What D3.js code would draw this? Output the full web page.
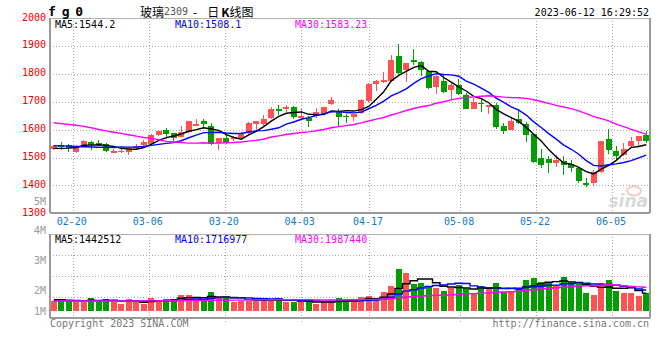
<!DOCTYPE html>
<html><head><meta charset="utf-8">
<script src="https://cdn.jsdelivr.net/npm/d3@7"></script>
<style>body{margin:0;background:#fff}svg{display:block}</style>
</head><body>
<script>
// ---------- data ----------
const dates = ["02-15","02-16","02-17","02-20","02-21","02-22","02-23","02-24","02-27","02-28",
"03-01","03-02","03-03","03-06","03-07","03-08","03-09","03-10","03-13","03-14",
"03-15","03-16","03-17","03-20","03-21","03-22","03-23","03-24","03-27","03-28",
"03-29","03-30","03-31","04-03","04-04","04-06","04-07","04-10","04-11","04-12",
"04-13","04-14","04-17","04-18","04-19","04-20","04-21","04-24","04-25","04-26",
"04-27","04-28","05-04","05-05","05-08","05-09","05-10","05-11","05-12","05-15",
"05-16","05-17","05-18","05-19","05-22","05-23","05-24","05-25","05-26","05-29",
"05-30","05-31","06-01","06-02","06-05","06-06","06-07","06-08","06-09","06-12"];
const open = [1530,1545,1546,1521,1539,1557,1554,1549,1522,1523,
1520,1535,1546,1548,1581,1600,1588,1575,1593,1614,
1631,1615,1554,1569,1566,1569,1589,1619,1619,1643,
1676,1673,1682,1643,1643,1649,1658,1692,1669,1651,
1646,1661,1702,1764,1771,1774,1863,1813,1851,1842,
1810,1752,1776,1742,1760,1726,1676,1696,1681,1690,
1613,1599,1640,1621,1583,1500,1494,1482,1488,1476,
1462,1408,1408,1450,1565,1524,1510,1542,1560,1580];
const high = [1546,1555,1550,1546,1563,1561,1563,1552,1531,1531,
1538,1549,1562,1585,1600,1606,1590,1614,1633,1640,
1640,1625,1569,1581,1577,1593,1627,1633,1652,1681,
1687,1690,1685,1676,1649,1679,1683,1717,1673,1655,
1658,1711,1768,1777,1806,1869,1908,1839,1890,1845,
1810,1798,1798,1768,1782,1732,1714,1714,1688,1696,
1625,1643,1675,1629,1586,1530,1506,1510,1504,1492,
1462,1425,1455,1560,1601,1542,1554,1574,1576,1595];
const low = [1527,1529,1521,1515,1537,1529,1540,1521,1517,1518,
1509,1531,1540,1545,1576,1565,1560,1573,1590,1612,
1605,1544,1528,1548,1560,1562,1586,1595,1615,1637,
1652,1663,1637,1637,1610,1643,1655,1688,1615,1623,
1631,1658,1699,1740,1768,1771,1800,1771,1833,1792,
1748,1730,1732,1705,1726,1673,1673,1663,1655,1601,
1586,1599,1619,1556,1482,1462,1444,1467,1438,1449,
1408,1395,1399,1446,1514,1494,1506,1536,1542,1551];
const close = [1543,1540,1535,1543,1560,1546,1546,1525,1523,1525,
1533,1543,1557,1581,1594,1584,1571,1593,1631,1622,
1619,1548,1569,1554,1574,1586,1623,1633,1640,1673,
1669,1681,1645,1651,1631,1663,1683,1708,1645,1644,
1655,1708,1765,1774,1780,1851,1804,1839,1844,1813,
1750,1794,1736,1760,1730,1675,1699,1693,1688,1610,
1595,1633,1623,1581,1485,1474,1480,1492,1473,1462,
1417,1405,1450,1560,1529,1506,1530,1558,1576,1560];
// volume in millions
const volumeM = [0.83,0.94,0.83,0.75,0.75,1.05,0.83,0.97,0.75,0.56,
0.94,0.73,0.56,1.05,0.89,0.97,0.97,1.29,1.29,0.94,
0.83,1.53,1.05,1.21,0.75,0.83,0.83,0.83,1.05,0.83,
0.94,0.75,0.75,0.75,0.75,0.56,0.75,0.75,1.05,0.89,
0.75,1.13,1.21,0.97,1.53,2.02,3.39,3.06,2.18,2.26,
2.02,1.88,1.61,1.88,2.10,1.85,1.45,2.02,1.77,2.26,
1.51,1.61,1.85,2.50,2.66,2.34,2.26,2.07,2.77,2.31,
2.15,1.48,1.29,2.28,2.50,1.64,1.48,1.48,1.18,1.43];
// moving-average values before enough closes are in view
const ma5Head = [1533,1533,1534,1536];
const ma10Head = [1543,1542,1541,1540,1539,1538,1537,1537,1536];
const ma30Head = [1625,1622,1619,1616,1612,1607,1601,1596,1591,1587,1582,1577,1572,1569,1564,
1558,1556,1554,1552,1552,1553,1552,1552,1553,1554,1556,1559,1562,1566];
const vma5Head = [0.92,0.92,0.88,0.85];
const vma10Head = [0.84,0.84,0.84,0.84,0.84,0.84,0.84,0.84,0.84];
const vma30Head = [0.81,0.81,0.81,0.81,0.81,0.81,0.81,0.81,0.81,0.81,0.81,0.81,0.82,0.82,0.82,
0.83,0.83,0.84,0.84,0.85,0.85,0.86,0.87,0.87,0.88,0.88,0.89,0.90,0.91];
const xTickDates = ["02-20","03-06","03-20","04-03","04-17","05-08","05-22","06-05"];
const priceTicks = [1300,1400,1500,1600,1700,1800,1900,2000];
const volLabelValues = [5,4,3,2,1];
const volLabelText = ["5M","4M","3M","2M","1M"];
const priceMaText = ["MA5:1544.2","MA10:1508.1","MA30:1583.23"];
const volMaText = ["MA5:1442512","MA10:1716977","MA30:1987440"];

// ---------- layout ----------
const W = 660, H = 360;
const L = 50, R = 650;
const PT = 18.3, PB = 213.3;
const VT = 234.3, VB = 318.3;
const UP = "#ff5252", DOWN = "#009e00";
const maColors = ["#000000","#0000ff","#ff00ff"];
const mono = "'DejaVu Sans Mono', monospace";

const svg = d3.select("body").append("svg").attr("width", W).attr("height", H);

const xb = d3.scaleBand().domain(dates).range([L, R]).paddingInner(0.2).paddingOuter(0.1);
const xg = d3.scalePoint().domain(dates).range([L, R]);
const yP = d3.scaleLinear().domain([1300, 2000]).range([PB, PT]);
const yV = d3.scaleLinear().domain([0, 1]).range([311, 298.6]);
const yVgrid = d3.scaleLinear().domain([0, 4]).range([VB, VT]);
const yVlabel = d3.scaleLinear().domain([1, 2, 5]).range([311, 290.7, 201]);

const cx = d => Math.floor(xb(d) + xb.bandwidth() / 2) + 0.5;

function movingAvg(vals, n, head) {
  return vals.map((v, i) => i < n - 1 ? head[i] : d3.mean(vals.slice(i - n + 1, i + 1)));
}

const defs = svg.append("defs");
defs.append("clipPath").attr("id", "cp").append("rect").attr("x", L).attr("y", PT).attr("width", R - 0.5 - L).attr("height", PB - PT);
defs.append("clipPath").attr("id", "cv").append("rect").attr("x", L).attr("y", VT).attr("width", R - 0.5 - L).attr("height", VB - VT);

const gridStyle = sel => sel.attr("stroke", "#aaaaaa").attr("stroke-width", 1).attr("stroke-dasharray", "1,2").attr("shape-rendering", "crispEdges");

// ---------- price panel grid ----------
const gP = svg.append("g");
gP.selectAll(".hg").data(priceTicks.slice(1, -1)).join("line")
  .attr("x1", L).attr("x2", R).attr("y1", d => Math.round(yP(d)) + 0.5).attr("y2", d => Math.round(yP(d)) + 0.5)
  .call(gridStyle);
gP.selectAll(".vg").data(xTickDates).join("line")
  .attr("x1", d => Math.round(xg(d)) + 0.5).attr("x2", d => Math.round(xg(d)) + 0.5)
  .attr("y1", PT).attr("y2", PB).call(gridStyle);

// volume panel grid
const gV = svg.append("g");
gV.selectAll("line.h").data([1, 2, 3]).join("line")
  .attr("x1", L).attr("x2", R).attr("y1", d => Math.round(yVgrid(d)) + 0.5).attr("y2", d => Math.round(yVgrid(d)) + 0.5)
  .call(gridStyle);
gV.selectAll("line.v").data(xTickDates).join("line")
  .attr("x1", d => Math.round(xg(d)) + 0.5).attr("x2", d => Math.round(xg(d)) + 0.5)
  .attr("y1", VT).attr("y2", VB + 4).call(gridStyle);

// ---------- candles ----------
const candles = svg.append("g").attr("clip-path", "url(#cp)");
const idx = d3.range(dates.length);
const col = i => close[i] >= open[i] ? UP : DOWN;
candles.selectAll("line.w").data(idx).join("line")
  .attr("x1", i => cx(dates[i])).attr("x2", i => cx(dates[i]))
  .attr("y1", i => yP(high[i])).attr("y2", i => yP(low[i]))
  .attr("stroke", col).attr("stroke-width", 1).attr("shape-rendering", "crispEdges");
candles.selectAll("rect.b").data(idx).join("rect")
  .attr("x", i => Math.round(xb(dates[i]))).attr("width", Math.round(xb.bandwidth()))
  .attr("y", i => yP(Math.max(open[i], close[i])))
  .attr("height", i => Math.max(1.5, Math.abs(yP(open[i]) - yP(close[i]))))
  .attr("fill", col).attr("shape-rendering", "crispEdges");

// price MAs
const priceMAs = [movingAvg(close, 5, ma5Head), movingAvg(close, 10, ma10Head), movingAvg(close, 30, ma30Head)];
const pLine = d3.line().x((d, i) => xb(dates[i]) + xb.bandwidth() / 2).y(d => yP(d));
candles.selectAll("path.ma").data(priceMAs).join("path")
  .attr("d", pLine).attr("fill", "none").attr("stroke", (d, i) => maColors[i]).attr("stroke-width", 1.4);

// sina watermark
const wm = svg.append("g").attr("opacity", 0.55);
wm.append("ellipse").attr("cx", 634).attr("cy", 191).attr("rx", 7).attr("ry", 4.5).attr("fill", "none").attr("stroke", "#f0a0a0").attr("stroke-width", 2);
wm.append("text").attr("x", 648).attr("y", 207).attr("text-anchor", "end")
  .attr("font-family", "'DejaVu Sans', sans-serif").attr("font-style", "italic").attr("font-weight", "bold")
  .attr("font-size", 17).attr("fill", "#bbbbbb").text("sina");

// ---------- volume ----------
const vol = svg.append("g").attr("clip-path", "url(#cv)");
vol.selectAll("rect").data(idx).join("rect")
  .attr("x", i => Math.round(xb(dates[i]))).attr("width", Math.round(xb.bandwidth()))
  .attr("y", i => yV(volumeM[i])).attr("height", i => yV(0) - yV(volumeM[i]))
  .attr("fill", col).attr("shape-rendering", "crispEdges");
const volMAs = [movingAvg(volumeM, 5, vma5Head), movingAvg(volumeM, 10, vma10Head), movingAvg(volumeM, 30, vma30Head)];
const vLine = d3.line().curve(d3.curveStep).x((d, i) => xb(dates[i]) + xb.bandwidth() / 2).y(d => yV(d));
vol.selectAll("path").data(volMAs).join("path")
  .attr("d", vLine).attr("fill", "none").attr("stroke", (d, i) => maColors[i]).attr("stroke-width", 1.4);

// ---------- frames ----------
const frame = svg.append("g").attr("fill", "none").attr("shape-rendering", "crispEdges");
frame.append("line").attr("x1", L).attr("x2", R).attr("y1", PT + 0.2).attr("y2", PT + 0.2).attr("stroke", "#b0b0b0").attr("stroke-width", 1);
frame.append("line").attr("x1", L).attr("x2", R).attr("y1", PB).attr("y2", PB).attr("stroke", "#999").attr("stroke-width", 2);
frame.append("line").attr("x1", L).attr("x2", L).attr("y1", PT).attr("y2", PB).attr("stroke", "#999").attr("stroke-width", 2);
frame.append("line").attr("x1", R - 0.5).attr("x2", R - 0.5).attr("y1", PT).attr("y2", PB).attr("stroke", "#999").attr("stroke-width", 2);
frame.append("line").attr("x1", L).attr("x2", R).attr("y1", VT).attr("y2", VT).attr("stroke", "#b0b0b0").attr("stroke-width", 1);
frame.append("line").attr("x1", L).attr("x2", R).attr("y1", VB).attr("y2", VB).attr("stroke", "#999").attr("stroke-width", 2);
frame.append("line").attr("x1", L).attr("x2", L).attr("y1", VT).attr("y2", VB).attr("stroke", "#999").attr("stroke-width", 2);
frame.append("line").attr("x1", R - 0.5).attr("x2", R - 0.5).attr("y1", VT).attr("y2", VB).attr("stroke", "#999").attr("stroke-width", 2);

// ---------- text ----------
const txt = svg.append("g").attr("font-family", mono).attr("font-size", 10);
txt.selectAll("text.py").data(priceTicks).join("text")
  .attr("x", 46).attr("y", d => yP(d) - 1.2).attr("text-anchor", "end").attr("dominant-baseline", "central")
  .attr("fill", "#ee0000").text(d => d);
txt.selectAll("text.vy").data(volLabelValues).join("text")
  .attr("x", 46).attr("y", d => yVlabel(d)).attr("text-anchor", "end").attr("dominant-baseline", "central")
  .attr("fill", "#999999").text((d, i) => volLabelText[i]);
txt.selectAll("text.xl").data(xTickDates).join("text")
  .attr("x", d => xg(d) - 1).attr("y", 221).attr("text-anchor", "middle").attr("dominant-baseline", "central")
  .attr("fill", "#1478c8").text(d => d);
const maX = [55, 175, 295];
txt.selectAll("text.pm").data(priceMaText).join("text")
  .attr("x", (d, i) => maX[i]).attr("y", 24).attr("dominant-baseline", "central")
  .attr("fill", (d, i) => maColors[i]).text(d => d);
txt.selectAll("text.vm").data(volMaText).join("text")
  .attr("x", (d, i) => maX[i]).attr("y", 239).attr("dominant-baseline", "central")
  .attr("fill", (d, i) => maColors[i]).text(d => d);
txt.append("text").attr("x", 649).attr("y", 12).attr("text-anchor", "end").attr("dominant-baseline", "central")
  .attr("fill", "#000").text("2023-06-12 16:29:52");
txt.append("text").attr("x", 50).attr("y", 323.5).attr("dominant-baseline", "central")
  .attr("fill", "#777").text("Copyright 2023 SINA.COM");
txt.append("text").attr("x", 649).attr("y", 323.5).attr("text-anchor", "end").attr("dominant-baseline", "central")
  .attr("fill", "#777").text("http://finance.sina.com.cn");

// title
svg.append("text").attr("x", 48).attr("y", 11).attr("dominant-baseline", "central")
  .attr("font-family", mono).attr("font-weight", "bold").attr("font-size", 13).attr("letter-spacing", -1)
  .attr("fill", "#000").text("f g 0");
const t = svg.append("text").attr("x", 140).attr("y", 11).attr("dominant-baseline", "central")
  .attr("font-family", "'Noto Sans CJK SC', sans-serif").attr("font-size", 12).attr("fill", "#000");
t.append("tspan").text("玻璃");
t.append("tspan").attr("font-family", mono).attr("font-size", 10).attr("fill", "#555").text("2309");
t.append("tspan").attr("dx", 5).text("-");
t.append("tspan").attr("dx", 10).text("日");
t.append("tspan").attr("font-weight", "bold").attr("dx", 2).text("K");
t.append("tspan").text("线图");
</script>
</body></html>
